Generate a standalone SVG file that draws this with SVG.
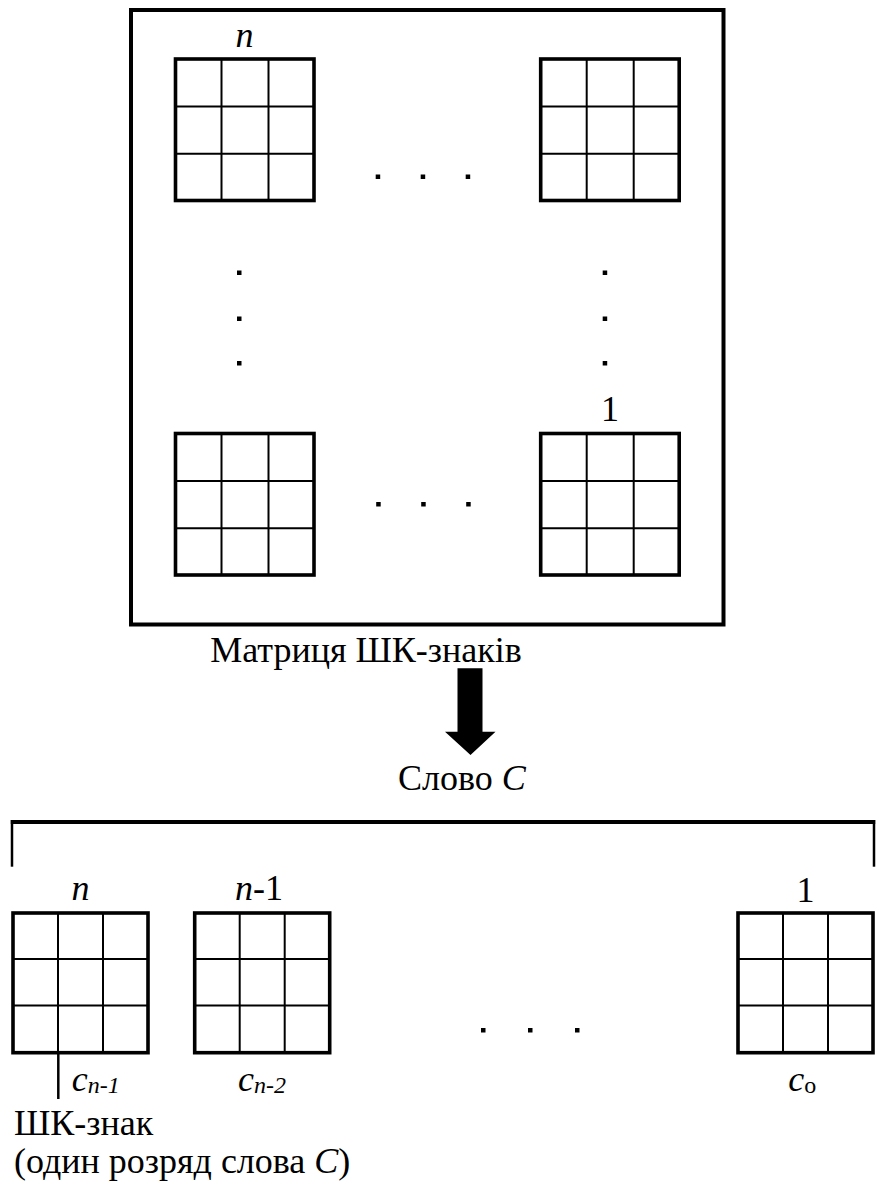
<svg xmlns="http://www.w3.org/2000/svg" width="878" height="1187" viewBox="0 0 878 1187">
<style>
.frame{fill:none;stroke:#000;stroke-width:4}
.gout{fill:none;stroke:#000;stroke-width:3.6}
.gin{stroke:#000;stroke-width:2}
text,tspan{font-family:'Liberation Serif','Times New Roman','DejaVu Serif',serif}
.t{font-size:36px;fill:#000}
.i{font-style:italic}
.sub{font-size:24px;font-style:italic;fill:#000}
.subu{font-size:24px;fill:#000}
.dot{fill:#000}
.ln{stroke:#000;fill:none}
</style>
<defs>
<g id="grid">
<rect class="gout" x="0" y="0" width="138.5" height="141.5"/>
<line class="gin" x1="46" y1="0" x2="46" y2="141.5"/>
<line class="gin" x1="93" y1="0" x2="93" y2="141.5"/>
<line class="gin" x1="0" y1="47.5" x2="138.5" y2="47.5"/>
<line class="gin" x1="0" y1="94.7" x2="138.5" y2="94.7"/>
</g>
<g id="sgrid">
<rect class="gout" x="0" y="0" width="135" height="139.7"/>
<line class="gin" x1="45" y1="0" x2="45" y2="139.7"/>
<line class="gin" x1="90" y1="0" x2="90" y2="139.7"/>
<line class="gin" x1="0" y1="46" x2="135" y2="46"/>
<line class="gin" x1="0" y1="92.5" x2="135" y2="92.5"/>
</g>
</defs>

<g id="matrix">
<rect class="frame" x="131" y="10" width="592.5" height="614.5"/>
<text class="t" font-family="Liberation Serif, serif" x="366" y="661.5" text-anchor="middle">Матриця ШК-знаків</text>
</g>

<g id="m-top-left">
<use href="#grid" x="175.5" y="59"/>
<text class="t i" font-family="Liberation Serif, serif" x="244.6" y="46.5" text-anchor="middle">n</text>
</g>
<g id="m-top-right">
<use href="#grid" x="540.7" y="59"/>
</g>
<g id="m-bottom-left">
<use href="#grid" x="175.5" y="433.5"/>
</g>
<g id="m-bottom-right">
<use href="#grid" x="540.7" y="433.5"/>
<text class="t" font-family="Liberation Serif, serif" x="610" y="420.5" text-anchor="middle">1</text>
</g>

<g id="ellipses">
<rect class="dot" x="375.7" y="174.5" width="4.5" height="4.5"/>
<rect class="dot" x="420.7" y="174.5" width="4.5" height="4.5"/>
<rect class="dot" x="465.7" y="174.5" width="4.5" height="4.5"/>
<rect class="dot" x="376.2" y="502" width="4.5" height="4.5"/>
<rect class="dot" x="421.2" y="502" width="4.5" height="4.5"/>
<rect class="dot" x="466.2" y="502" width="4.5" height="4.5"/>
<rect class="dot" x="237" y="270.5" width="4.5" height="4.5"/>
<rect class="dot" x="237" y="316.5" width="4.5" height="4.5"/>
<rect class="dot" x="237" y="361" width="4.5" height="4.5"/>
<rect class="dot" x="602.7" y="270.5" width="4.5" height="4.5"/>
<rect class="dot" x="602.7" y="316.5" width="4.5" height="4.5"/>
<rect class="dot" x="602.7" y="361" width="4.5" height="4.5"/>
<rect class="dot" x="481" y="1028" width="4.5" height="4.5"/>
<rect class="dot" x="528" y="1028" width="4.5" height="4.5"/>
<rect class="dot" x="575" y="1028" width="4.5" height="4.5"/>
</g>

<g id="connectors">
<polygon id="arrow" fill="#000" points="457.5,668.3 482.5,668.3 482.5,731.7 495.5,731.7 470.5,755 445,731.7 457.5,731.7"/>
<line class="ln" stroke-width="4" x1="10.8" y1="822" x2="875.2" y2="822"/>
<line class="ln" stroke-width="2.5" x1="12" y1="820" x2="12" y2="866.7"/>
<line class="ln" stroke-width="2.5" x1="874" y1="820" x2="874" y2="866.7"/>
<line class="ln" stroke-width="2.5" x1="58.3" y1="1052" x2="58.3" y2="1099"/>
</g>

<g id="word-label">
<text class="t" font-family="Liberation Serif, serif" x="398" y="790">Слово <tspan class="i">C</tspan></text>
</g>

<g id="digit-n">
<use href="#sgrid" x="13" y="913"/>
<text class="t i" font-family="Liberation Serif, serif" x="80.4" y="900" text-anchor="middle">n</text>
<text font-family="Liberation Serif, serif" x="71.7" y="1091"><tspan class="t i">c</tspan><tspan class="sub" dy="2">n-1</tspan></text>
</g>
<g id="digit-n-1">
<use href="#sgrid" x="194.7" y="913"/>
<text class="t" font-family="Liberation Serif, serif" x="259" y="900" text-anchor="middle"><tspan class="i">n</tspan>-1</text>
<text font-family="Liberation Serif, serif" x="238" y="1091"><tspan class="t i">c</tspan><tspan class="sub" dy="2">n-2</tspan></text>
</g>
<g id="digit-1">
<use href="#sgrid" x="738" y="913"/>
<text class="t" font-family="Liberation Serif, serif" x="805.5" y="901.5" text-anchor="middle">1</text>
<text font-family="Liberation Serif, serif" x="788.3" y="1091"><tspan class="t i">c</tspan><tspan class="subu" dy="2">о</tspan></text>
</g>

<g id="sign-label">
<text class="t" font-family="Liberation Serif, serif" x="14" y="1135">ШК-знак</text>
<text class="t" font-family="Liberation Serif, serif" x="14" y="1173">(один розряд слова <tspan class="i">C</tspan>)</text>
</g>
</svg>
